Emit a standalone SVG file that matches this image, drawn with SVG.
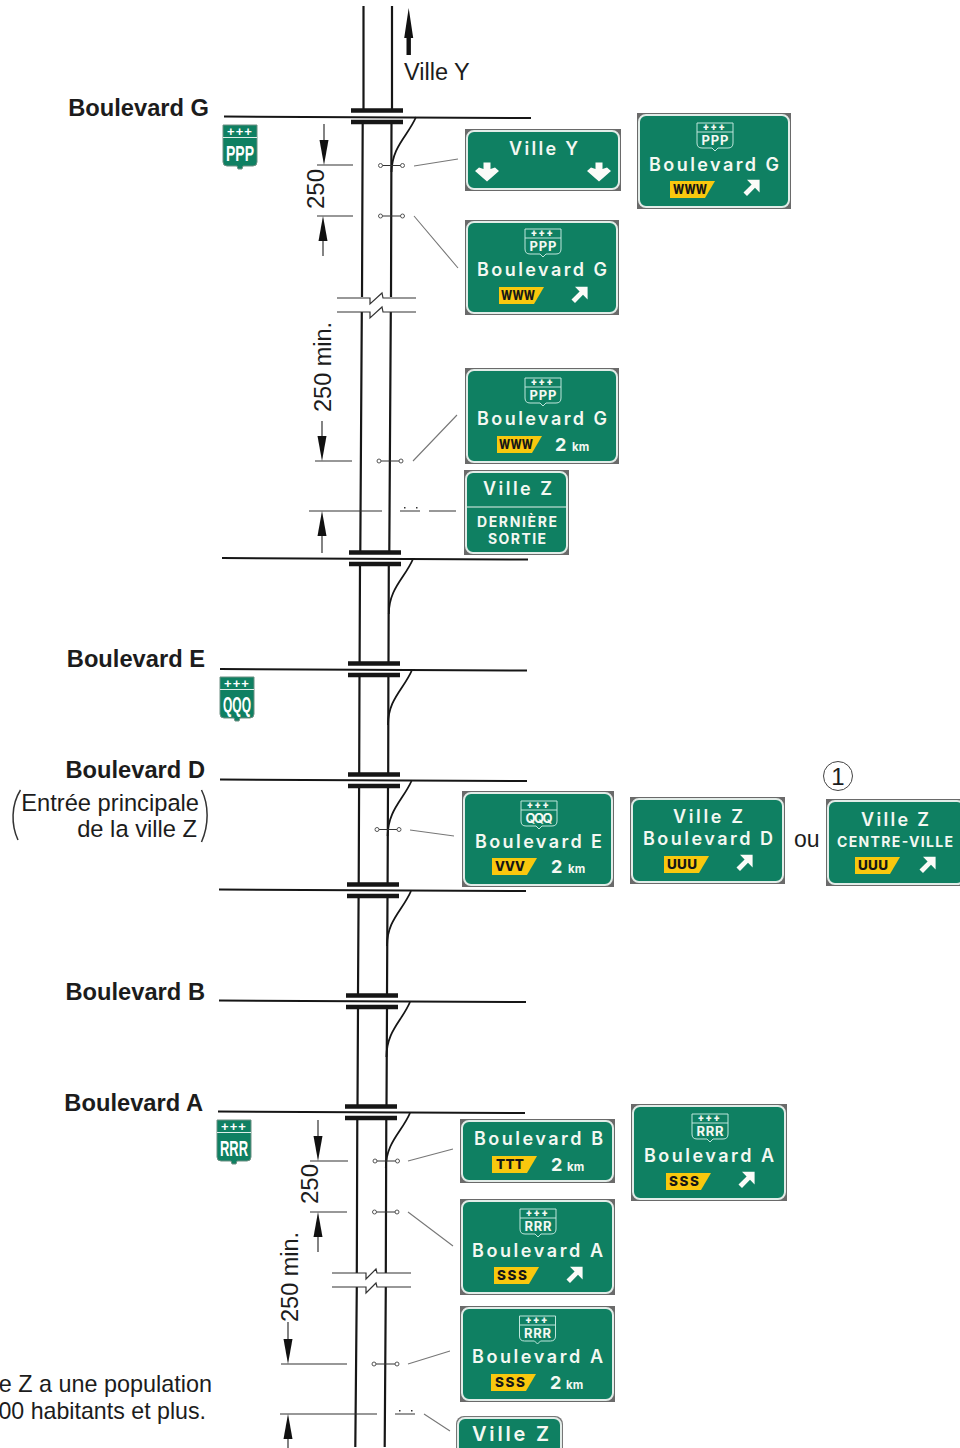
<svg xmlns="http://www.w3.org/2000/svg" width="960" height="1448" viewBox="0 0 960 1448">
<style>
text{font-family:"Liberation Sans",Arial,sans-serif;fill:#1c1c1c}
.b{font-weight:700}
.n{fill:none;stroke:#161616}
.st{stroke-width:2}
.br{stroke-width:4.5}
.rd{stroke-width:2.2}
.rp{stroke-width:1.8}
.th{stroke-width:1.2;stroke:#333;fill:none}
.ld{stroke-width:1.1;stroke:#777;fill:none}
.pc{stroke-width:1;stroke:#555;fill:#fff}
.o{fill:#6a6a6a}
.g{fill:#0f8062;stroke:#e2ece8;stroke-width:2}
.w{font-family:Inter,"Open Sans",sans-serif;font-weight:600;fill:#f4f8f2;text-anchor:middle;font-size:18px}
.w2{font-family:Inter,"Open Sans",sans-serif;font-weight:700;fill:#f4f8f2;text-anchor:middle;font-size:14px}
.d2{font-family:Inter,"Open Sans",sans-serif;font-weight:700;fill:#f4f8f2;font-size:18px}
.km{font-family:Inter,"Open Sans",sans-serif;font-weight:700;fill:#f4f8f2;font-size:11.5px}
.pl{fill:#f9c80e}
.pt{font-family:Inter,"Open Sans",sans-serif;font-weight:800;fill:#161616;text-anchor:middle;font-size:13.5px}
.wh{fill:#fbfbf8}
.so{fill:none;stroke:#bfe6dc;stroke-width:1}
.sp{font-family:Roboto,"Open Sans",sans-serif;font-weight:900;fill:#f4f8f2;text-anchor:middle;font-size:10px}
.st2{font-family:Inter,"Open Sans",sans-serif;font-weight:700;fill:#f4f8f2;text-anchor:middle;font-size:13px}
.ms{fill:#0f8062;stroke:#6d8f82;stroke-width:1}
.mt{font-family:"Liberation Sans",sans-serif;font-weight:700;fill:#fff;text-anchor:middle;font-size:22px}
.mp{font-family:"Liberation Sans",sans-serif;font-weight:700;fill:#fff;text-anchor:middle;font-size:13px}
</style>
<defs>
<path id="ne" class="wh" d="M8.6,-9.2V3.5L4,-1.2L-4,6.9L-7.5,3.5L.6,-4.6L-4,-9.2Z"/>
<path id="dn" class="wh" d="M-3.5,-10H3.5V-3.5L8,-5L12,-1.5L0,9L-12,-1.5L-8,-5L-3.5,-3.5Z"/>
<path id="plate" class="pl" d="M0,0H45L35,17H0Z"/>
<path id="so" class="so" d="M0,0H36V20Q36,25 31,25H21L18,28L15,25H5Q0,25 0,20ZM0,9H36"/>
<path id="ms" class="ms" d="M0,0H34V37Q34,41 30,41H20L19,44H15L14,41H4Q0,41 0,37Z"/>
<path id="ah" fill="#111" d="M0,0L-4.5,-25H4.5Z"/>
</defs>

<g id="connectors">
<path class="n rd" d="M363.5,6V110M392,6V110"/>
<path class="n rd" d="M362.7,122L362,297M361.8,312L360.3,552M391.5,122L391,297M390.8,312L389.3,552"/>
<path class="n rd" d="M360,564L359.6,663M388.8,564L388.5,663M359.5,675L359.2,774M388.4,675L388.2,774M359.1,786L358.7,884M388,786L387.6,884M358.6,896L358,995M387.5,896L387,995M358,1007L357.5,1106M387,1007L386.5,1106"/>
<path class="n rd" d="M357.3,1118L356.8,1273M386.3,1118L385.8,1273M356.8,1287L355.3,1447M385.8,1287L384.7,1447"/>

<path class="n st" d="M224,116.5L531,118M222,558L528,559.5M220,669L527,670.5M220,779.5L527,781M219,889.5L526,891M219,1000.5L526,1002M218,1111.5L525,1113"/>

<path class="n br" d="M351,110.5H403M351,122H403M349,552.5H401M349,564H401M348,663.5H400M348,675H400M348,774.5H400M348,786H400M347,884.5H399M347,896H399M346,995.5H398M346,1007H398M345,1106.5H397M345,1118H397"/>

<path class="n rp" d="M416,117C408,136 392,146 391.5,172M413,559C405,578 389,588 388.8,614M412,670C404,689 388,699 388,725M411.5,781C403,800 388,810 387.6,836M411,891C403,910 387,920 387,946M410,1002C402,1021 386.5,1031 386.4,1057M410,1113C402,1132 386,1142 385.8,1168"/>

<path class="th" d="M337,298H370V304L382,293L383,298H416M337,312H370V318L382,307L383,312H416"/>
<path class="th" d="M332,1273H366V1279L376,1269L377,1273H411M332,1287H366V1293L376,1283L377,1287H411"/>

<path class="th" d="M380.5,165.5H402.5M380.5,216H402.5M379,461H401M377,829.5H399M375,1161H397.5M374.5,1212H397M374,1364H397"/>
<g>
<circle class="pc" cx="380.5" cy="165.5" r="2"/><circle class="pc" cx="402.5" cy="165.5" r="2"/>
<circle class="pc" cx="380.5" cy="216" r="2"/><circle class="pc" cx="402.5" cy="216" r="2"/>
<circle class="pc" cx="379" cy="461" r="2"/><circle class="pc" cx="401" cy="461" r="2"/>
<circle class="pc" cx="377" cy="829.5" r="2"/><circle class="pc" cx="399" cy="829.5" r="2"/>
<circle class="pc" cx="375" cy="1161" r="2"/><circle class="pc" cx="397.5" cy="1161" r="2"/>
<circle class="pc" cx="374.5" cy="1212" r="2"/><circle class="pc" cx="397" cy="1212" r="2"/>
<circle class="pc" cx="374" cy="1364" r="2"/><circle class="pc" cx="397" cy="1364" r="2"/>
</g>

<path class="ld" d="M414,166L458,159M414,216L458,268M413,461L457,415M410,830L454,836M408,1161L453,1149M408,1212L453,1246M408,1364L450,1351M424,1414L450,1431"/>

<path class="th" d="M317,165H353M317,216H353M315,461H352M309,511H382M400,511H420M429,511H456M310,1161H348M310,1212H347M281,1364H347M280,1414H377M395,1414H415"/>
<path class="th" d="M324,124V150M323,230V256M322,421V445M322,525V553M318,1120V1145M318,1225V1252M288,1322V1345M288,1428V1448"/>
<use href="#ah" x="324" y="165"/>
<use href="#ah" transform="translate(323,216) rotate(180)"/>
<use href="#ah" x="322" y="461"/>
<use href="#ah" transform="translate(322,511) rotate(180)"/>
<use href="#ah" x="318" y="1161"/>
<use href="#ah" transform="translate(318,1212) rotate(180)"/>
<use href="#ah" x="288" y="1364"/>
<use href="#ah" transform="translate(288,1414) rotate(180)"/>
<path d="M404,507h1.5v1.5h-1.5zM416,507h1.5v1.5h-1.5zM399,1410h1.5v1.5h-1.5zM411,1410h1.5v1.5h-1.5z" fill="#333"/>
<path fill="#111" d="M408.7,8L413.2,38H410.9V55H406.5V38H404.2Z"/>
<path d="M20.5,790C11,805 11,825 18,840M201.5,790C209,805 209,825 201.5,842" fill="none" stroke="#333" stroke-width="1.5"/>
<circle cx="838" cy="776" r="14.5" fill="none" stroke="#444" stroke-width="1"/>
</g>

<g id="labels">
<text x="404" y="80" font-size="23.5">Ville Y</text>
<text class="b" x="209" y="116" font-size="23.7" text-anchor="end">Boulevard G</text>
<text class="b" x="205" y="667" font-size="23.7" text-anchor="end">Boulevard E</text>
<text class="b" x="205" y="778" font-size="23.7" text-anchor="end">Boulevard D</text>
<text class="b" x="205" y="1000" font-size="23.7" text-anchor="end">Boulevard B</text>
<text class="b" x="203" y="1111" font-size="23.7" text-anchor="end">Boulevard A</text>
<text x="199" y="811" font-size="23.7" text-anchor="end">Entrée principale</text>
<text x="197" y="837" font-size="23.7" text-anchor="end">de la ville Z</text>
<text x="212" y="1392" font-size="23.4" text-anchor="end">e Z a une population</text>
<text x="206" y="1419" font-size="23.2" text-anchor="end">00 habitants et plus.</text>
<text x="794" y="847" font-size="23">ou</text>
<text x="838" y="785" font-size="24" text-anchor="middle">1</text>
<text transform="translate(324,209) rotate(-90)" font-size="24">250</text>
<text transform="translate(331,412) rotate(-90)" font-size="23.5">250 min.</text>
<text transform="translate(317.5,1204) rotate(-90)" font-size="24">250</text>
<text transform="translate(297.5,1322) rotate(-90)" font-size="23.5">250 min.</text>
</g>

<g id="marker-ppp">
<use href="#ms" x="223" y="125"/><path d="M223,137.5H257" stroke="#dfeee9" stroke-width="1"/>
<text class="mp" x="240" y="136" letter-spacing="1">+++</text>
<text class="mt" x="240" y="161" textLength="28" lengthAdjust="spacingAndGlyphs">PPP</text>
</g>
<g id="marker-qqq">
<use href="#ms" x="220" y="677"/><path d="M220,689.5H254" stroke="#dfeee9" stroke-width="1"/>
<text class="mp" x="237" y="688" letter-spacing="1">+++</text>
<text class="mt" x="237" y="712" textLength="28" lengthAdjust="spacingAndGlyphs">QQQ</text>
</g>
<g id="marker-rrr">
<use href="#ms" x="217" y="1120"/><path d="M217,1132.5H251" stroke="#dfeee9" stroke-width="1"/>
<text class="mp" x="234" y="1131" letter-spacing="1">+++</text>
<text class="mt" x="234" y="1156" textLength="28" lengthAdjust="spacingAndGlyphs">RRR</text>
</g>

<g id="sign-ville-y">
<rect class="o" x="465" y="129" width="156" height="62"/><rect class="g" x="467" y="131" width="152" height="58" rx="7"/>
<text class="w" x="543.5" y="155" textLength="69">Ville Y</text>
<use href="#dn" x="487" y="172.5"/><use href="#dn" x="599" y="172.5"/>
</g>

<g id="sign-bd-g-exit">
<rect class="o" x="637" y="113" width="154" height="96"/><rect class="g" x="639" y="115" width="150" height="92" rx="7"/>
<use href="#so" x="697" y="123"/><text class="sp" x="715" y="131" letter-spacing="2.5">+++</text><text class="st2" x="715" y="145" textLength="27">PPP</text>
<text class="w" x="714" y="171" textLength="130">Boulevard G</text>
<use href="#plate" x="670" y="181"/><text class="pt" x="690" y="194" textLength="34" lengthAdjust="spacingAndGlyphs">WWW</text>
<use href="#ne" x="751" y="189"/>
</g>

<g id="sign-bd-g-250">
<rect class="o" x="465" y="220" width="154" height="95"/><rect class="g" x="467" y="222" width="150" height="91" rx="7"/>
<use href="#so" x="525" y="229"/><text class="sp" x="543" y="237" letter-spacing="2.5">+++</text><text class="st2" x="543" y="251" textLength="27">PPP</text>
<text class="w" x="542" y="276" textLength="130">Boulevard G</text>
<use href="#plate" x="499" y="287"/><text class="pt" x="518" y="300" textLength="34" lengthAdjust="spacingAndGlyphs">WWW</text>
<use href="#ne" x="579" y="296"/>
</g>

<g id="sign-bd-g-2km">
<rect class="o" x="465" y="368" width="154" height="96"/><rect class="g" x="467" y="370" width="150" height="92" rx="7"/>
<use href="#so" x="525" y="378"/><text class="sp" x="543" y="386" letter-spacing="2.5">+++</text><text class="st2" x="543" y="400" textLength="27">PPP</text>
<text class="w" x="542" y="425" textLength="130">Boulevard G</text>
<use href="#plate" x="497" y="436"/><text class="pt" x="516" y="449" textLength="34" lengthAdjust="spacingAndGlyphs">WWW</text>
<text class="d2" x="555" y="451">2</text><text class="km" x="572" y="451">km</text>
</g>

<g id="sign-ville-z-derniere">
<rect class="o" x="464" y="470" width="105" height="85"/><rect class="g" x="466" y="472" width="101" height="81" rx="7"/>
<path d="M466,507H567" stroke="#e6f1ec" stroke-width="1.2"/>
<text class="w" x="517.5" y="495" textLength="69">Ville Z</text>
<text class="w2" x="517" y="527" textLength="80">DERNIÈRE</text>
<text class="w2" x="517" y="544" textLength="58">SORTIE</text>
</g>

<g id="sign-bd-e">
<rect class="o" x="462" y="791" width="152" height="96"/><rect class="g" x="464" y="793" width="148" height="92" rx="7"/>
<use href="#so" x="521" y="801"/><text class="sp" x="539" y="809" letter-spacing="2.5">+++</text><text class="st2" x="539" y="823" textLength="27">QQQ</text>
<text class="w" x="538.5" y="848" textLength="127">Boulevard E</text>
<use href="#plate" x="492" y="858"/><text class="pt" x="510" y="871" textLength="30" lengthAdjust="spacingAndGlyphs">VVV</text>
<text class="d2" x="551" y="873">2</text><text class="km" x="568" y="873">km</text>
</g>

<g id="sign-bd-d">
<rect class="o" x="630" y="797" width="155" height="87"/><rect class="g" x="632" y="799" width="151" height="83" rx="7"/>
<text class="w" x="708" y="823" textLength="70">Ville Z</text>
<text class="w" x="708" y="845" textLength="130">Boulevard D</text>
<use href="#plate" x="664" y="856"/><text class="pt" x="682" y="869" textLength="30">UUU</text>
<use href="#ne" x="744" y="864"/>
</g>

<g id="sign-centre-ville">
<rect class="o" x="826" y="799" width="136" height="87"/><rect class="g" x="828" y="801" width="136" height="83" rx="7"/>
<text class="w" x="895" y="826" textLength="68">Ville Z</text>
<text class="w2" x="895" y="847" textLength="116">CENTRE-VILLE</text>
<use href="#plate" x="855" y="857"/><text class="pt" x="873" y="870" textLength="30">UUU</text>
<use href="#ne" x="927" y="866"/>
</g>

<g id="sign-bd-b">
<rect class="o" x="460" y="1119" width="155" height="64"/><rect class="g" x="462" y="1121" width="151" height="60" rx="7"/>
<text class="w" x="538.5" y="1145" textLength="129">Boulevard B</text>
<use href="#plate" x="492" y="1156"/><text class="pt" x="510" y="1169" textLength="28">TTT</text>
<text class="d2" x="551" y="1171">2</text><text class="km" x="567" y="1171">km</text>
</g>

<g id="sign-bd-a-exit">
<rect class="o" x="631" y="1104" width="156" height="97"/><rect class="g" x="633" y="1106" width="152" height="93" rx="7"/>
<use href="#so" x="692" y="1114"/><text class="sp" x="710" y="1122" letter-spacing="2.5">+++</text><text class="st2" x="710" y="1136" textLength="27">RRR</text>
<text class="w" x="709" y="1162" textLength="130">Boulevard A</text>
<use href="#plate" x="666" y="1173"/><text class="pt" x="684" y="1186" textLength="30">SSS</text>
<use href="#ne" x="746" y="1181"/>
</g>

<g id="sign-bd-a-250">
<rect class="o" x="460" y="1199" width="155" height="96"/><rect class="g" x="462" y="1201" width="151" height="92" rx="7"/>
<use href="#so" x="520" y="1209"/><text class="sp" x="538" y="1217" letter-spacing="2.5">+++</text><text class="st2" x="538" y="1231" textLength="27">RRR</text>
<text class="w" x="537.5" y="1257" textLength="131">Boulevard A</text>
<use href="#plate" x="494" y="1267"/><text class="pt" x="512" y="1280" textLength="30">SSS</text>
<use href="#ne" x="574" y="1276"/>
</g>

<g id="sign-bd-a-2km">
<rect class="o" x="460" y="1306" width="155" height="96"/><rect class="g" x="462" y="1308" width="151" height="92" rx="7"/>
<use href="#so" x="519.5" y="1316"/><text class="sp" x="537.5" y="1324" letter-spacing="2.5">+++</text><text class="st2" x="537.5" y="1338" textLength="27">RRR</text>
<text class="w" x="537.5" y="1363" textLength="131">Boulevard A</text>
<use href="#plate" x="491" y="1374"/><text class="pt" x="510" y="1387" textLength="30">SSS</text>
<text class="d2" x="550" y="1389">2</text><text class="km" x="566" y="1389">km</text>
</g>

<g id="sign-ville-z">
<rect x="456" y="1416" width="107" height="40" rx="8" fill="#777"/><rect class="g" x="458" y="1418" width="103" height="36" rx="7"/>
<text class="w" x="510.5" y="1441" textLength="77" style="font-size:20px">Ville Z</text>
</g>
</svg>
